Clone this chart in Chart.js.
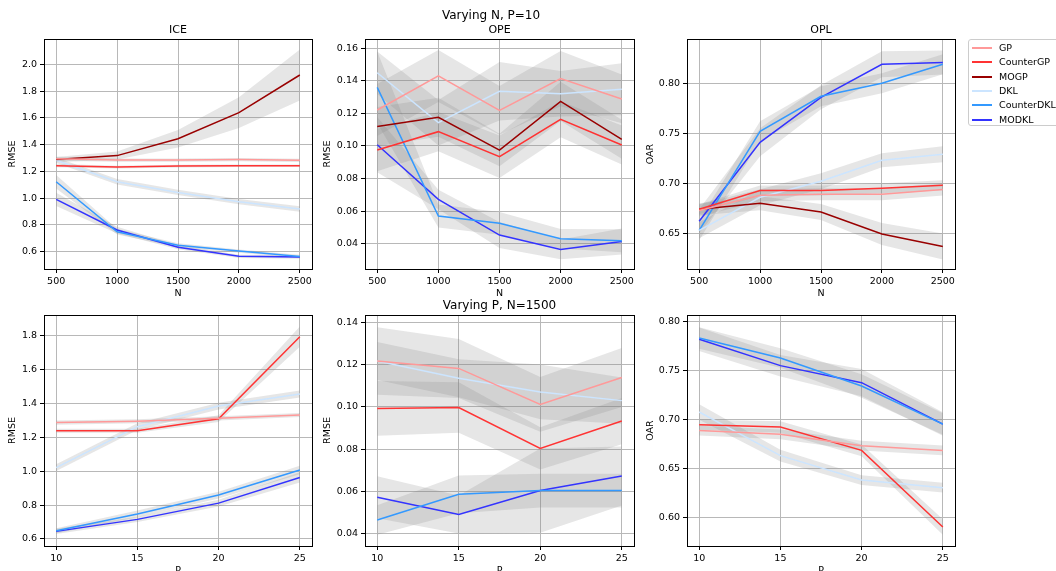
<!DOCTYPE html>
<html><head><meta charset="utf-8">
<script src="https://cdn.jsdelivr.net/npm/chart.js@4"></script>
<style>
html,body{margin:0;padding:0;width:1056px;height:571px;overflow:hidden;background:#fff;font-family:'DejaVu Sans',sans-serif;}
canvas{position:absolute;left:0;top:0;}
.sup{position:absolute;font-size:12px;color:#000;white-space:nowrap;transform:translate(-50%,-50%);line-height:1;}
#legend{position:absolute;left:968px;top:39px;width:100px;height:87px;border:1px solid #cccccc;border-radius:3px;background:rgba(255,255,255,0.8);box-sizing:border-box;}
#legend .sw{position:absolute;left:3px;width:20px;height:2px;}
#legend .tx{position:absolute;left:30px;font-size:9.5px;line-height:12px;color:#000;white-space:nowrap;}
</style></head><body>
<canvas id="c0" width="1056" height="600"></canvas>
<canvas id="c1" width="1056" height="600"></canvas>
<canvas id="c2" width="1056" height="600"></canvas>
<canvas id="c3" width="1056" height="600"></canvas>
<canvas id="c4" width="1056" height="600"></canvas>
<canvas id="c5" width="1056" height="600"></canvas>
<div class="sup" style="left:491px;top:15px">Varying N, P=10</div>
<div class="sup" style="left:499.5px;top:305px">Varying P, N=1500</div>
<div id="legend"></div>
<script>
// ---------- categories / x values ----------
const methods = ['GP','CounterGP','MOGP','DKL','CounterDKL','MODKL'];
const methodColors = ['#ff9999','#ff3333','#990000','#cce5ff','#3399ff','#3333ff'];
const nValues = [500,1000,1500,2000,2500];
const pValues = [10,15,20,25];

// ---------- tick labels ----------
const iceNTicks = [0.6,0.8,1.0,1.2,1.4,1.6,1.8,2.0];
const opeNTicks = [0.04,0.06,0.08,0.10,0.12,0.14,0.16];
const oplNTicks = [0.65,0.70,0.75,0.80];
const icePTicks = [0.6,0.8,1.0,1.2,1.4,1.6,1.8];
const opePTicks = [0.04,0.06,0.08,0.10,0.12,0.14];
const oplPTicks = [0.60,0.65,0.70,0.75,0.80];

// ---------- Varying N: ICE (RMSE) ----------
const iceN_mean = {
  GP:[1.295,1.285,1.285,1.288,1.283],
  CounterGP:[1.243,1.232,1.240,1.242,1.242],
  MOGP:[1.288,1.318,1.444,1.639,1.920],
  DKL:[1.283,1.123,1.043,0.974,0.919],
  CounterDKL:[1.123,0.749,0.648,0.605,0.565],
  MODKL:[0.991,0.762,0.633,0.566,0.560]
};
const iceN_band = {
  GP:[0.015,0.012,0.012,0.012,0.012],
  CounterGP:[0.012,0.010,0.010,0.010,0.010],
  MOGP:[0.020,0.030,0.065,0.115,0.190],
  DKL:[0.020,0.020,0.020,0.020,0.020],
  CounterDKL:[0.050,0.020,0.015,0.012,0.012],
  MODKL:[0.050,0.025,0.015,0.012,0.012]
};
// ---------- Varying N: OPE (RMSE) ----------
const opeN_mean = {
  GP:[0.1221,0.1430,0.1219,0.1414,0.1289],
  CounterGP:[0.0975,0.1088,0.0934,0.1164,0.1006],
  MOGP:[0.1119,0.1176,0.0975,0.1274,0.1041],
  DKL:[0.1450,0.1143,0.1336,0.1321,0.1348],
  CounterDKL:[0.1360,0.0570,0.0525,0.0431,0.0418],
  MODKL:[0.1008,0.0672,0.0453,0.0365,0.0414]
};
const opeN_band = {
  GP:[0.016,0.016,0.015,0.017,0.015],
  CounterGP:[0.013,0.012,0.013,0.011,0.012],
  MOGP:[0.012,0.012,0.010,0.012,0.012],
  DKL:[0.013,0.014,0.018,0.014,0.016],
  CounterDKL:[0.022,0.007,0.007,0.006,0.007],
  MODKL:[0.017,0.006,0.008,0.006,0.008]
};
// ---------- Varying N: OPL (OAR) ----------
const oplN_mean = {
  GP:[0.6727,0.6880,0.6890,0.6890,0.6937],
  CounterGP:[0.6740,0.6927,0.6927,0.6950,0.6980],
  MOGP:[0.6740,0.6800,0.6713,0.6493,0.6367],
  DKL:[0.6530,0.6860,0.7020,0.7230,0.7290],
  CounterDKL:[0.6530,0.7520,0.7870,0.8000,0.8190],
  MODKL:[0.6620,0.7410,0.7860,0.8190,0.8207]
};
const oplN_band = {
  GP:[0.006,0.006,0.006,0.006,0.006],
  CounterGP:[0.005,0.005,0.005,0.005,0.005],
  MOGP:[0.006,0.007,0.008,0.011,0.013],
  DKL:[0.008,0.008,0.008,0.007,0.008],
  CounterDKL:[0.010,0.010,0.010,0.010,0.010],
  MODKL:[0.012,0.014,0.012,0.013,0.012]
};
// ---------- Varying P: ICE (RMSE) ----------
const iceP_mean = {
  GP:[1.288,1.296,1.313,1.333],
  CounterGP:[1.240,1.240,1.311,1.796],
  DKL:[1.022,1.264,1.386,1.457],
  CounterDKL:[0.649,0.748,0.860,1.008],
  MODKL:[0.645,0.716,0.812,0.964]
};
const iceP_band = {
  GP:[0.012,0.012,0.012,0.012],
  CounterGP:[0.012,0.012,0.020,0.060],
  DKL:[0.020,0.020,0.020,0.020],
  CounterDKL:[0.015,0.020,0.020,0.025],
  MODKL:[0.015,0.015,0.020,0.030]
};
// ---------- Varying P: OPE (RMSE) ----------
const opeP_mean = {
  GP:[0.1218,0.1183,0.1012,0.1140],
  CounterGP:[0.0993,0.0997,0.0803,0.0933],
  DKL:[0.1218,0.1136,0.1071,0.1030],
  CounterDKL:[0.0463,0.0585,0.0603,0.0603],
  MODKL:[0.0571,0.0489,0.0603,0.0672]
};
const opeP_band = {
  GP:[0.016,0.014,0.013,0.014],
  CounterGP:[0.013,0.012,0.010,0.011],
  DKL:[0.009,0.009,0.013,0.011],
  CounterDKL:[0.007,0.009,0.008,0.008],
  MODKL:[0.010,0.009,0.020,0.014]
};
// ---------- Varying P: OPL (OAR) ----------
const oplP_mean = {
  GP:[0.6890,0.6852,0.6736,0.6688],
  CounterGP:[0.6950,0.6927,0.6688,0.5905],
  DKL:[0.7080,0.6634,0.6385,0.6307],
  CounterDKL:[0.7836,0.7632,0.7346,0.6957],
  MODKL:[0.7823,0.7554,0.7380,0.6957]
};
const oplP_band = {
  GP:[0.005,0.005,0.005,0.005],
  CounterGP:[0.005,0.006,0.006,0.008],
  DKL:[0.008,0.006,0.005,0.005],
  CounterDKL:[0.011,0.010,0.012,0.011],
  MODKL:[0.012,0.011,0.014,0.012]
};

// ---------- drawing ----------
Chart.defaults.font.family = "'DejaVu Sans', sans-serif";
Chart.defaults.color = '#000';
const CANVAS_H = 600, CANVAS_W = 1056;
const BAND_COLOR = 'rgba(128,128,128,0.2)';
const tickFont = {size: 9.5};

const framePlugin = {
  id: 'frame',
  afterDraw(chart, args, opts) {
    const {ctx, chartArea: a} = chart;
    ctx.save();
    ctx.strokeStyle = '#000';
    ctx.lineWidth = 1;
    ctx.strokeRect(Math.round(a.left) + 0.5, Math.round(a.top) + 0.5,
                   Math.round(a.right - a.left), Math.round(a.bottom - a.top));
    if (opts.title) {
      ctx.fillStyle = '#000';
      ctx.font = "11px 'DejaVu Sans'";
      ctx.textAlign = 'center';
      ctx.textBaseline = 'middle';
      ctx.fillText(opts.title, (a.left + a.right) / 2, a.top - 9);
    }
    ctx.restore();
  }
};

function makeChart(id, c) {
  const [L, T, R, B] = c.area;
  const xAxisH = 30;
  const datasets = [];
  c.series.forEach(m => {
    const col = methodColors[methods.indexOf(m)];
    datasets.push({
      label: m, data: c.xs.map((x, i) => ({x: x, y: c.mean[m][i]})),
      borderColor: col, backgroundColor: col, borderWidth: 1.5,
      pointRadius: 0, fill: false, order: 0, tension: 0
    });
  });
  c.series.forEach(m => {
    datasets.push({
      label: m + ' lo', data: c.xs.map((x, i) => ({x: x, y: c.mean[m][i] - c.band[m][i]})),
      borderWidth: 0, borderColor: 'rgba(0,0,0,0)', pointRadius: 0, fill: false, order: 1
    });
    datasets.push({
      label: m + ' hi', data: c.xs.map((x, i) => ({x: x, y: c.mean[m][i] + c.band[m][i]})),
      borderWidth: 0, borderColor: 'rgba(0,0,0,0)', pointRadius: 0, fill: '-1',
      backgroundColor: BAND_COLOR, order: 1
    });
  });
  return new Chart(document.getElementById(id), {
    type: 'line',
    data: {datasets},
    plugins: [framePlugin],
    options: {
      responsive: false, animation: false, devicePixelRatio: 1,
      layout: {padding: {left: L - c.yAxisW, top: T, right: CANVAS_W - R, bottom: CANVAS_H - (B + xAxisH)}},
      plugins: {legend: {display: false}, tooltip: {enabled: false}, frame: {title: c.title}},
      scales: {
        x: {
          type: 'linear', min: c.xMin, max: c.xMax,
          afterBuildTicks: s => { s.ticks = c.xs.map(v => ({value: v})); },
          afterFit: s => { s.height = xAxisH; },
          ticks: {font: tickFont, color: '#000', padding: 3, maxRotation: 0, autoSkip: false,
                  callback: v => String(v)},
          grid: {color: '#b8b8b8', lineWidth: 1, tickLength: 4, tickColor: '#000', tickWidth: 1},
          border: {display: false},
          title: {display: true, text: c.xTitle, font: tickFont, color: '#000', padding: 0}
        },
        y: {
          type: 'linear', min: c.yMin, max: c.yMax,
          afterBuildTicks: s => { s.ticks = c.yTicks.map(v => ({value: v})); },
          afterFit: s => { s.width = c.yAxisW; },
          ticks: {font: tickFont, color: '#000', padding: 3, autoSkip: false,
                  callback: v => Number(v).toFixed(c.yDec)},
          grid: {color: '#b8b8b8', lineWidth: 1, tickLength: 4, tickColor: '#000', tickWidth: 1},
          border: {display: false},
          title: {display: true, text: c.yTitle, font: tickFont, color: '#000', padding: 0}
        }
      }
    }
  });
}

const topSeries = methods;
const botSeries = ['GP','CounterGP','DKL','CounterDKL','MODKL'];

makeChart('c0', {area:[44,39,312,269], xs:nValues, xMin:400, xMax:2600, yMin:0.471, yMax:2.189,
  yTicks:iceNTicks, yDec:1, yTitle:'RMSE', xTitle:'N', title:'ICE', yAxisW:37,
  series:topSeries, mean:iceN_mean, band:iceN_band});
makeChart('c1', {area:[365,39,634,269], xs:nValues, xMin:400, xMax:2600, yMin:0.02446, yMax:0.1657,
  yTicks:opeNTicks, yDec:2, yTitle:'RMSE', xTitle:'N', title:'OPE', yAxisW:43,
  series:topSeries, mean:opeN_mean, band:opeN_band});
makeChart('c2', {area:[687,39,955,269], xs:nValues, xMin:400, xMax:2600, yMin:0.6143, yMax:0.8443,
  yTicks:oplNTicks, yDec:2, yTitle:'OAR', xTitle:'N', title:'OPL', yAxisW:42,
  series:topSeries, mean:oplN_mean, band:oplN_band});
makeChart('c3', {area:[44,315,312,546], xs:pValues, xMin:9.25, xMax:25.75, yMin:0.5586, yMax:1.924,
  yTicks:icePTicks, yDec:1, yTitle:'RMSE', xTitle:'P', title:'', yAxisW:37,
  series:botSeries, mean:iceP_mean, band:iceP_band});
makeChart('c4', {area:[365,315,634,546], xs:pValues, xMin:9.25, xMax:25.75, yMin:0.03397, yMax:0.14366,
  yTicks:opePTicks, yDec:2, yTitle:'RMSE', xTitle:'P', title:'', yAxisW:43,
  series:botSeries, mean:opeP_mean, band:opeP_band});
makeChart('c5', {area:[687,315,955,546], xs:pValues, xMin:9.25, xMax:25.75, yMin:0.5711, yMax:0.80715,
  yTicks:oplPTicks, yDec:2, yTitle:'OAR', xTitle:'P', title:'', yAxisW:42,
  series:botSeries, mean:oplP_mean, band:oplP_band});

// ---------- legend ----------
const lg = document.getElementById('legend');
methods.forEach((m, i) => {
  const cy = Math.round(8 + i * 14.35);
  const sw = document.createElement('div');
  sw.className = 'sw'; sw.style.top = (cy - 1) + 'px'; sw.style.background = methodColors[i];
  const tx = document.createElement('div');
  tx.className = 'tx'; tx.style.top = (cy - 6) + 'px'; tx.textContent = m;
  lg.appendChild(sw); lg.appendChild(tx);
});
</script>
</body></html>
